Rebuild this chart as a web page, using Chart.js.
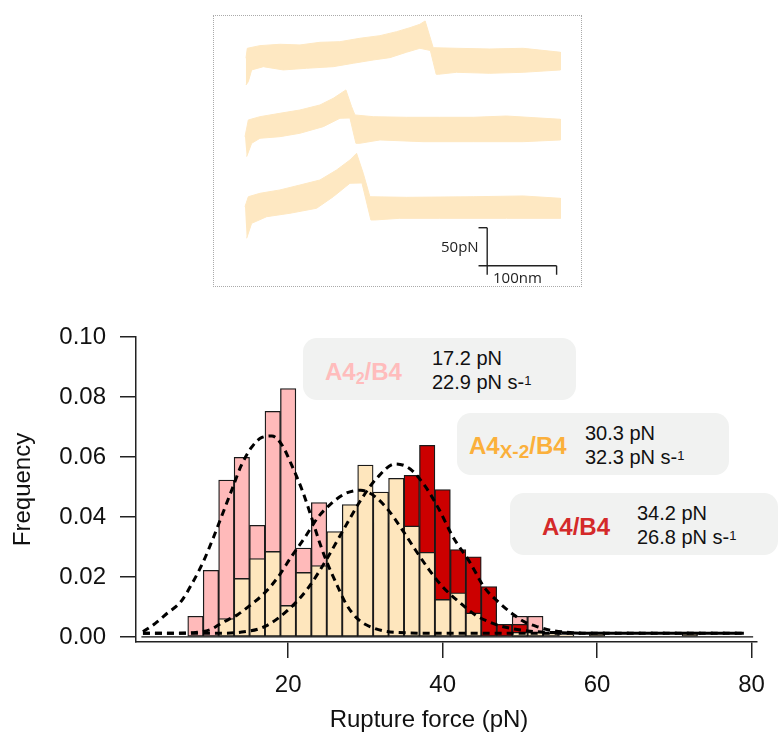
<!DOCTYPE html>
<html>
<head>
<meta charset="utf-8">
<script src="https://cdn.jsdelivr.net/npm/chart.js@4.4.0/dist/chart.umd.min.js"></script>
<style>
  body { margin: 0; background: #fff; width: 780px; height: 740px; position: relative; overflow: hidden;
         font-family: "Liberation Sans", Arial, sans-serif; color: #111; }
  #inset { position: absolute; left: 213px; top: 15px; }
  #insetFrame { position: absolute; left: 213px; top: 15px; width: 369px; height: 272px;
                box-sizing: border-box; border: 1px dotted #aaa; pointer-events: none; }
  #main { position: absolute; left: 0; top: 300px; }
  .box { position: absolute; background: #f1f2f1; border-radius: 14px; }
  .t { position: absolute; white-space: nowrap; line-height: 1; }
  .lab { font-weight: bold; font-size: 24px; }
  .val { font-size: 20px; color: #111; }
  .sup { font-size: 13px; position: relative; top: -4px; }
  .sub2 { font-size: 16px; position: relative; top: 4px; }
  .subx { font-size: 19px; position: relative; top: 4px; }
  .bar { font-family: "Open Sans", "Liberation Sans", sans-serif; font-size: 15px; color: #222; }
  #xtitle { position: absolute; left: 0; width: 858px; top: 707px; text-align: center; font-size: 24px; line-height: 1; }
</style>
</head>
<body>
<canvas id="inset" width="369" height="272"></canvas>
<div id="insetFrame"></div>
<div class="t bar" style="left:441px; top:239px;">50pN</div>
<div class="t bar" style="left:493px; top:270px;">100nm</div>

<canvas id="main" width="780" height="440"></canvas>

<div class="box" style="left:303px; top:338px; width:273px; height:62px;"></div>
<div class="t lab" style="left:325px; top:360px; color:#ffbcbc;">A4<span class="sub2">2</span>/B4</div>
<div class="t val" style="left:432px; top:348px;">17.2 pN</div>
<div class="t val" style="left:432px; top:372px;">22.9 pN s-<span class="sup">1</span></div>

<div class="box" style="left:457px; top:413px; width:272px; height:62px;"></div>
<div class="t lab" style="left:469px; top:434px; color:#fbb03b;">A4<span class="subx">X-2</span>/B4</div>
<div class="t val" style="left:585px; top:423px;">30.3 pN</div>
<div class="t val" style="left:585px; top:447px;">32.3 pN s-<span class="sup">1</span></div>

<div class="box" style="left:510px; top:493px; width:268px; height:62px;"></div>
<div class="t lab" style="left:542px; top:515px; color:#d42a2a;">A4/B4</div>
<div class="t val" style="left:637px; top:503px;">34.2 pN</div>
<div class="t val" style="left:637px; top:527px;">26.8 pN s-<span class="sup">1</span></div>

<div id="xtitle">Rupture force (pN)</div>

<script>
// ---------- Histogram: rupture force frequencies (2 pN bins) ----------
const binCenters = [8, 10, 12, 14, 16, 18, 20, 22, 24, 26, 28, 30, 32, 34, 36, 38, 40, 42,
                    44, 46, 48, 50, 52, 54, 56, 58, 60, 62, 64, 66, 68, 70, 72, 74, 76, 78];
const freqA42 = [0.0069, 0.0222, 0.0523, 0.0599, 0.0372, 0.0752, 0.0828, 0.0296, 0.0448, 0.016,
                 0.008, 0.004, 0.002, 0, 0, 0, 0, 0, 0, 0, 0, 0.0069, 0.0069, 0,
                 0, 0, 0, 0, 0, 0, 0, 0, 0, 0, 0, 0];
const freqA4x2 = [0, 0, 0.0061, 0.0195, 0.0261, 0.0285, 0.0105, 0.0215, 0.0238, 0.0351,
                  0.0441, 0.0573, 0.0483, 0.0529, 0.037, 0.0282, 0.0125, 0.0147, 0.008, 0, 0,
                  0.0015, 0.0015, 0.0012, 0.0008, 0, 0.0016, 0, 0, 0, 0, 0, 0.0016, 0, 0, 0];
const freqA4 = [0, 0, 0, 0, 0, 0, 0, 0.004, 0.008, 0.014, 0.022, 0.03, 0.038, 0.045, 0.0539,
                0.0639, 0.0491, 0.0291, 0.0267, 0.0168, 0.0042, 0.0042, 0, 0, 0, 0, 0, 0,
                0, 0, 0, 0, 0, 0, 0, 0];

// fitted distributions (dashed)
const fitA42X = [1.2, 2.8, 4.3, 6.1, 7.6, 9.0, 10.3, 11.5, 12.7, 13.9, 15.2, 16.6, 17.9, 19.2,
                 20.5, 21.8, 23.0, 24.0, 25.0, 26.2, 27.5, 29.0, 31.0, 34.0, 40, 50, 60, 70, 79];
const fitA42Y = [0.0017, 0.0045, 0.0078, 0.0117, 0.018, 0.025, 0.033, 0.041, 0.049, 0.057, 0.063,
                 0.0665, 0.067, 0.064, 0.057, 0.049, 0.040, 0.032, 0.025, 0.018, 0.011, 0.006,
                 0.003, 0.0015, 0.0012, 0.0012, 0.0012, 0.0012, 0.0012];
const fitA4x2X = [1.2, 5, 8, 10, 11.3, 13.5, 15.2, 16.9, 18.7, 20.4, 22.2, 23.9, 25.6, 27.4, 29.4,
                  31.3, 33.0, 34.8, 36.5, 38.3, 40.0, 42.2, 44.3, 46.2, 48, 51, 55, 60, 70, 79];
const fitA4x2Y = [0.0012, 0.0012, 0.0015, 0.0025, 0.0045, 0.0075, 0.0108, 0.0145, 0.020, 0.0267,
                  0.0333, 0.040, 0.0445, 0.0478, 0.0489, 0.0467, 0.0422, 0.0356, 0.0289, 0.0222,
                  0.0167, 0.0115, 0.0072, 0.0048, 0.0033, 0.002, 0.0014, 0.0012, 0.0012, 0.0012];
const fitA4X = [1.2, 10, 14, 17, 20, 22.5, 25, 27, 29.5, 31.5, 33.9, 35.8, 37.8, 39.6, 41.3, 43.5,
                45.4, 47.5, 49.3, 50.6, 52.4, 54, 57, 60, 70, 79];
const fitA4Y = [0.0012, 0.0012, 0.0016, 0.0035, 0.009, 0.016, 0.026, 0.035, 0.046, 0.053, 0.0577,
                0.056, 0.050, 0.0422, 0.0335, 0.025, 0.0165, 0.011, 0.0072, 0.005, 0.0033, 0.0022,
                0.0014, 0.0012, 0.0012, 0.0012];

const zeroLineX = [1, 80.2];
const xTicks = [20, 40, 60, 80];
const yTicks = [0, 0.02, 0.04, 0.06, 0.08, 0.10];

// ---------- Inset: three force-extension traces (nm, pN) ----------
const trace1X = [1.4, 3.3, 21.6, 50.4, 79.2, 108, 136.8, 165.6, 194.4, 218.5, 237.6, 252, 259.6,
                 271.2, 304.8, 352.8, 400.8, 454.6,
                 454.6, 400.8, 352.8, 304.8, 279, 275.5, 267.1, 252, 232.8, 208.8, 184.8, 156,
                 127.2, 88.8, 55.2, 26.4, 9.6, 4.8, 1.4];
const trace1Y = [301.0, 314.1, 317.6, 319.4, 318.5, 322.0, 322.8, 327.3, 330.7, 336.0, 341.2, 345.7,
                 350.1, 314.9, 314.1, 313.2, 314.1, 308.9,
                 285.6, 282.5, 281.2, 282.5, 279.9, 279.9, 311.2, 314.1, 308.9, 301.8, 298.7, 294.4,
                 289.9, 287.8, 285.6, 289.9, 285.6, 270.2, 265.8];
const trace2X = [0, 4.8, 21.6, 50.4, 79.2, 108, 127.2, 145.4, 153.6, 158.4, 184.8, 232.8, 280.8,
                 328.8, 376.8, 454.6,
                 454.6, 400.8, 328.8, 256.8, 194.4, 165.6, 159.8, 151.2, 136.8, 112.8, 79.2, 50.4,
                 21.6, 9.6, 2.4];
const trace2Y = [197.8, 219.8, 224.1, 228.6, 232.9, 239.5, 248.3, 259.3, 237.3, 226.4, 224.1, 223.3,
                 223.3, 223.3, 225.0, 220.7,
                 193.5, 191.2, 191.2, 191.2, 193.5, 189.1, 189.1, 222.4, 222.0, 211.0, 202.3, 197.8,
                 195.7, 189.1, 171.5];
const trace3X = [0, 4.8, 21.6, 50.4, 79.2, 108, 132.0, 151.2, 160.8, 170.4, 180, 232.8, 328.8,
                 400.8, 454.6,
                 454.6, 376.8, 280.8, 223.2, 187.2, 181.4, 168.5, 151.2, 127.2, 103.2, 64.8, 31.2,
                 9.6, 2.4];
const trace3Y = [105.7, 118.8, 123.3, 127.7, 134.2, 140.8, 154.0, 167.1, 175.9, 149.6, 118.8, 118.0,
                 118.8, 119.8, 116.7,
                 90.4, 90.4, 90.4, 90.4, 88.2, 88.2, 136.9, 136.5, 118.8, 103.6, 97.0, 92.5,
                 83.8, 64.1];
// scale bar: origin, 100 nm across, 50 pN up
const barOrigin = [349, 28];
const barLengths = [100, 50];

const pts = (xs, ys) => xs.map((x, i) => ({ x: x, y: ys[i] }));
const FONT = '"Liberation Sans", Arial, sans-serif';

const trace = (xs, ys) => ({
  data: pts(xs, ys), fill: 'shape', backgroundColor: 'rgb(254,232,194)',
  borderColor: 'rgb(254,232,194)', borderWidth: 1, pointRadius: 0, tension: 0
});
const seg = (a, b) => ({
  data: [{ x: a[0], y: a[1] }, { x: b[0], y: b[1] }], borderColor: '#222', borderWidth: 1.4,
  pointRadius: 0, fill: false
});
const [bx, by] = barOrigin, [bw, bh] = barLengths;

new Chart(document.getElementById('inset'), {
  type: 'line',
  data: { datasets: [
    trace(trace1X, trace1Y), trace(trace2X, trace2Y), trace(trace3X, trace3Y),
    seg([bx, by - 12], [bx, by + bh]),
    seg([bx - 12.5, by + bh], [bx, by + bh]),
    seg([bx - 12.5, by], [bx + bw, by]),
    seg([bx + bw, by], [bx + bw, by - 12])
  ] },
  options: {
    responsive: false, animation: false, devicePixelRatio: 1,
    layout: { padding: 0 },
    plugins: { legend: { display: false }, tooltip: { enabled: false } },
    scales: {
      x: { type: 'linear', display: false, min: -46.1, max: 485.6 },
      y: { type: 'linear', display: false, min: 0, max: 357.9 }
    }
  }
});

// ---------- Main histogram ----------
const fitLine = (xs, ys) => ({
  type: 'line', data: pts(xs, ys), borderColor: '#000', borderWidth: 3, borderDash: [7, 5],
  pointRadius: 0, cubicInterpolationMode: 'monotone', fill: false, order: 0
});
const hist = (ys, color, order) => ({
  type: 'bar', data: pts(binCenters, ys), backgroundColor: color, borderColor: '#1a1a1a',
  borderWidth: 1.3, borderSkipped: false, grouped: false, barPercentage: 1,
  categoryPercentage: 1, order: order
});

new Chart(document.getElementById('main'), {
  type: 'bar',
  data: { datasets: [
    fitLine(fitA42X, fitA42Y),
    fitLine(fitA4x2X, fitA4x2Y),
    fitLine(fitA4X, fitA4Y),
    { type: 'line', data: zeroLineX.map(x => ({ x: x, y: 0 })), borderColor: '#111',
      borderWidth: 1.4, pointRadius: 0, fill: false, order: 0.5 },
    hist(freqA4x2, '#fee6bd', 1),
    hist(freqA4, '#cc0000', 2),
    hist(freqA42, '#ffbaba', 3)
  ] },
  options: {
    responsive: false, animation: false, devicePixelRatio: 1,
    layout: { padding: { top: 37, right: 23, left: 0, bottom: 0 } },
    plugins: { legend: { display: false }, tooltip: { enabled: false } },
    scales: {
      x: {
        type: 'linear', min: 0.3, max: 80.7, offset: false,
        afterBuildTicks: s => { s.ticks = xTicks.map(v => ({ value: v })); },
        afterFit: s => { s.height = 98; },
        grid: { offset: false, drawOnChartArea: false, drawTicks: true, tickLength: 16,
                color: '#222', lineWidth: 1.5 },
        border: { display: true, color: '#222', width: 1.5 },
        ticks: { font: { family: FONT, size: 24 }, color: '#111', padding: 13,
                 maxRotation: 0, autoSkip: false }
      },
      y: {
        type: 'linear', min: -0.0017, max: 0.1,
        afterBuildTicks: s => { s.ticks = yTicks.map(v => ({ value: v })); },
        afterFit: s => { s.width = 136; },
        grid: { drawOnChartArea: false, drawTicks: true, tickLength: 16, color: '#222', lineWidth: 1.5 },
        border: { display: true, color: '#222', width: 1.5 },
        ticks: { font: { family: FONT, size: 24 }, color: '#111', padding: 14,
                 callback: v => Number(v).toFixed(2) },
        title: { display: true, text: 'Frequency', font: { family: FONT, size: 24 },
                 color: '#111', padding: { top: 9, bottom: 0 } }
      }
    }
  }
});
</script>
</body>
</html>
